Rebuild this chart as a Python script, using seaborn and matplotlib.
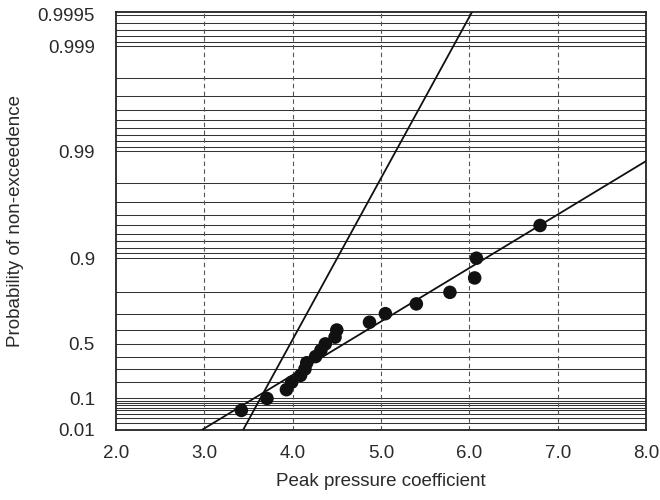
import numpy as np
import pandas as pd
import matplotlib
matplotlib.use("Agg")
import matplotlib.pyplot as plt
import seaborn as sns

# ---- data ----
peak_cp = [3.42, 3.71, 3.93, 3.99, 4.09, 4.14, 4.16, 4.26, 4.32, 4.37,
           4.48, 4.50, 4.87, 5.05, 5.40, 5.78, 6.06, 6.08, 6.80]
prob = [0.05, 0.10, 0.15, 0.20, 0.25, 0.30, 0.35, 0.40, 0.45, 0.50,
        0.55, 0.60, 0.65, 0.70, 0.75, 0.80, 0.85, 0.90, 0.95]

# Gumbel fit lines: (mode u, scale a)
fit_modes = [4.27, 3.87]
fit_scales = [0.85, 0.2818]

x_ticks = [2.0, 3.0, 4.0, 5.0, 6.0, 7.0, 8.0]
x_tick_labels = ["2.0", "3.0", "4.0", "5.0", "6.0", "7.0", "8.0"]
y_ticks = [0.01, 0.1, 0.5, 0.9, 0.99, 0.999, 0.9995]
y_tick_labels = ["0.01", "0.1", "0.5", "0.9", "0.99", "0.999", "0.9995"]
grid_probs = ([0.01 * i for i in range(1, 10)] + [0.1 * i for i in range(1, 10)] +
              [0.9 + 0.01 * i for i in range(1, 10)] +
              [0.99 + 0.001 * i for i in range(1, 10)] +
              [0.999 + 0.0001 * i for i in range(1, 6)])

# ---- gumbel probability scale ----
def fwd(p):
    p = np.clip(np.asarray(p, dtype=float), 1e-300, 1 - 1e-16)
    return -np.log(-np.log(p))

def inv(y):
    return np.exp(-np.exp(-np.asarray(y, dtype=float)))

sns.set_theme(style="white")
plt.rcParams["font.family"] = ["Liberation Sans", "DejaVu Sans"]
text_color = "#2a2a2a"

fig = plt.figure(figsize=(6.6, 5.0), dpi=100)
ax = fig.add_axes([0.1755, 0.14, 0.8035, 0.836])
ax.set_yscale("function", functions=(fwd, inv))

# horizontal grid
for gp in grid_probs:
    ax.axhline(gp, color="#333333", lw=0.75, zorder=1)
# vertical dashed grid
for xv in x_ticks[1:-1]:
    ax.axvline(xv, color="#555555", lw=0.8, ls=(0, (4, 3)), zorder=1)

# fitted lines
line_p = np.array([0.001, 0.9999999])
rows = []
for k, (u, a) in enumerate(zip(fit_modes, fit_scales)):
    xs = u + a * fwd(line_p)
    for xv, pv in zip(xs, line_p):
        rows.append({"x": xv, "p": pv, "fit": k})
lines_df = pd.DataFrame(rows)
sns.lineplot(data=lines_df, x="x", y="p", units="fit", estimator=None,
             color="#111111", lw=1.3, ax=ax, zorder=3, sort=False)

df = pd.DataFrame({"cp": peak_cp, "p": prob})
sns.scatterplot(data=df, x="cp", y="p", s=95, color="#111111",
                edgecolor="none", ax=ax, zorder=4)

ax.set_xlim(2.0, 8.0)
ax.set_ylim(0.01, inv(7.665))
ax.set_xticks(x_ticks)
ax.set_xticklabels(x_tick_labels)
ax.set_yticks(y_ticks)
ax.set_yticklabels(y_tick_labels)
ax.yaxis.set_minor_locator(matplotlib.ticker.NullLocator())
ax.tick_params(axis="both", length=0, labelsize=13.5, colors=text_color)
ax.tick_params(axis="y", pad=15)
ax.tick_params(axis="x", pad=11)
ax.set_xlabel("Peak pressure coefficient", fontsize=13.5, color=text_color, labelpad=8)
ax.set_ylabel("Probability of non-exceedence", fontsize=13.5, color=text_color, labelpad=10)
for sp in ax.spines.values():
    sp.set_visible(True)
    sp.set_color("#222222")
    sp.set_linewidth(1.3)

fig.savefig("out.png", dpi=100)
